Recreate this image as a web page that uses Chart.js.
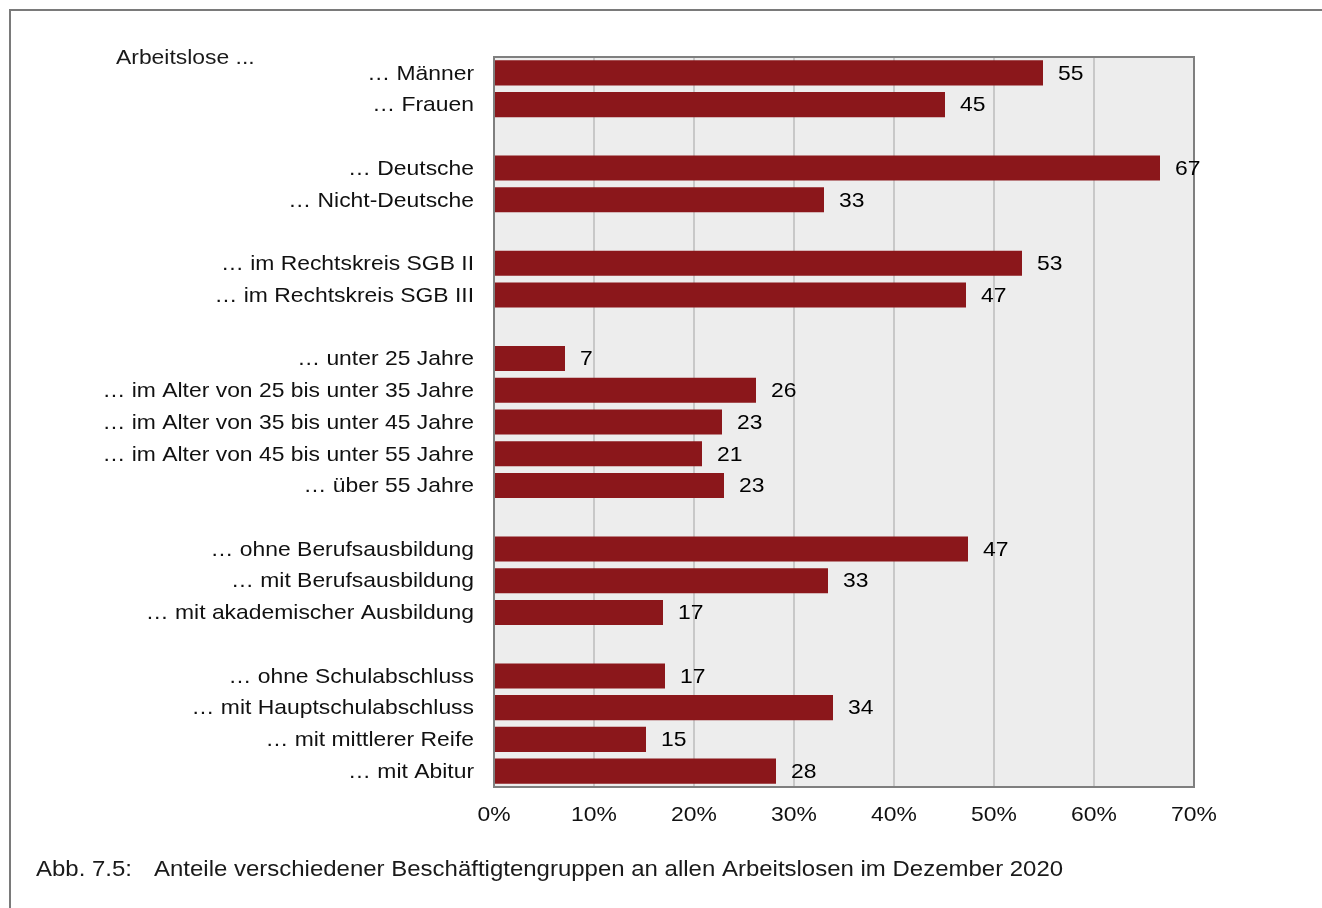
<!DOCTYPE html>
<html>
<head>
<meta charset="utf-8">
<script src="https://cdn.jsdelivr.net/npm/chart.js@4"></script>
<style>
  html, body { margin: 0; padding: 0; background: #fff; }
  #wrap { width: 1322px; height: 908px; position: relative; }
</style>
</head>
<body>
<div id="wrap"><canvas id="barchart" width="1322" height="908"></canvas></div>
<script>
const categories = [
  "… Männer",
  "… Frauen",
  "",
  "… Deutsche",
  "… Nicht-Deutsche",
  "",
  "… im Rechtskreis SGB II",
  "… im Rechtskreis SGB III",
  "",
  "… unter 25 Jahre",
  "… im Alter von 25 bis unter 35 Jahre",
  "… im Alter von 35 bis unter 45 Jahre",
  "… im Alter von 45 bis unter 55 Jahre",
  "… über 55 Jahre",
  "",
  "… ohne Berufsausbildung",
  "… mit Berufsausbildung",
  "… mit akademischer Ausbildung",
  "",
  "… ohne Schulabschluss",
  "… mit Hauptschulabschluss",
  "… mit mittlerer Reife",
  "… mit Abitur",
];

// shares in percent, null = empty row between groups
const shares = [
  54.9, 45.1, null,
  66.6, 33.0, null,
  52.8, 47.2, null,
  7.1, 26.2, 22.8, 20.8, 23.0, null,
  47.4, 33.4, 16.9, null,
  17.1, 33.9, 15.2, 28.2,
];

const xTicks = [0, 10, 20, 30, 40, 50, 60, 70];

const FONT = "Liberation Sans, Arial, Helvetica, sans-serif";
const STRETCH = 1.09; // the original text is a bit wider than Arial

function drawText(ctx, text, x, y, size, align) {
  ctx.save();
  ctx.font = size + "px " + FONT;
  ctx.textAlign = align;
  ctx.textBaseline = "middle";
  ctx.translate(x, y);
  ctx.scale(STRETCH, 1);
  ctx.fillText(text, 0, 0);
  ctx.restore();
}

const decorPlugin = {
  id: "decor",
  beforeDraw(chart) {
    const { ctx, chartArea: a } = chart;
    ctx.save();
    ctx.fillStyle = "#ededed";
    ctx.fillRect(a.left, a.top, a.right - a.left, a.bottom - a.top);
    ctx.restore();
  },
  afterDatasetsDraw(chart) {
    const { ctx, chartArea: a, scales } = chart;
    ctx.save();
    // plot frame
    ctx.strokeStyle = "#7f7f7f";
    ctx.lineWidth = 2;
    ctx.strokeRect(a.left, a.top, a.right - a.left, a.bottom - a.top);

    // value labels
    const meta = chart.getDatasetMeta(0);
    ctx.fillStyle = "#000";
    meta.data.forEach((bar, i) => {
      if (shares[i] == null) return;
      drawText(ctx, String(Math.round(shares[i])), bar.x + 15, bar.y + 1, 21, "left");
    });

    // category labels
    ctx.fillStyle = "#111";
    categories.forEach((c, i) => {
      if (!c) return;
      drawText(ctx, c, a.left - 20, scales.y.getPixelForValue(i) + 1, 21, "right");
    });

    // x tick labels
    xTicks.forEach((v) => {
      drawText(ctx, v + "%", scales.x.getPixelForValue(v), 815, 21, "center");
    });

    // outer figure frame (top + left)
    ctx.strokeStyle = "#7a7a7a";
    ctx.lineWidth = 2;
    ctx.beginPath();
    ctx.moveTo(10, 908);
    ctx.lineTo(10, 10);
    ctx.lineTo(1322, 10);
    ctx.stroke();

    // header and caption
    ctx.fillStyle = "#1a1a1a";
    drawText(ctx, "Arbeitslose ...", 116, 58, 21, "left");
    drawText(ctx, "Abb. 7.5:", 36, 870, 22, "left");
    drawText(ctx, "Anteile verschiedener Beschäftigtengruppen an allen Arbeitslosen im Dezember 2020", 154, 870, 22, "left");
    ctx.restore();
  },
};

new Chart(document.getElementById("barchart"), {
  type: "bar",
  data: {
    labels: categories,
    datasets: [
      {
        data: shares,
        backgroundColor: "#8b171b",
        borderWidth: 0,
        barPercentage: 0.79,
        categoryPercentage: 1,
      },
    ],
  },
  options: {
    indexAxis: "y",
    responsive: false,
    animation: false,
    layout: { padding: { top: 57, right: 128, left: 0, bottom: 0 } },
    plugins: {
      legend: { display: false },
      tooltip: { enabled: false },
    },
    scales: {
      x: {
        min: 0,
        max: 70,
        afterBuildTicks: (scale) => {
          scale.ticks = xTicks.map((v) => ({ value: v }));
        },
        afterFit: (scale) => {
          scale.height = 908 - 787;
        },
        grid: { color: "#c8c8c8", lineWidth: 2, drawTicks: false },
        border: { display: false },
        ticks: { display: false },
      },
      y: {
        afterFit: (scale) => {
          scale.width = 494;
        },
        grid: { display: false, drawTicks: false },
        border: { display: false },
        ticks: { display: false, autoSkip: false },
      },
    },
  },
  plugins: [decorPlugin],
});
</script>
</body>
</html>
